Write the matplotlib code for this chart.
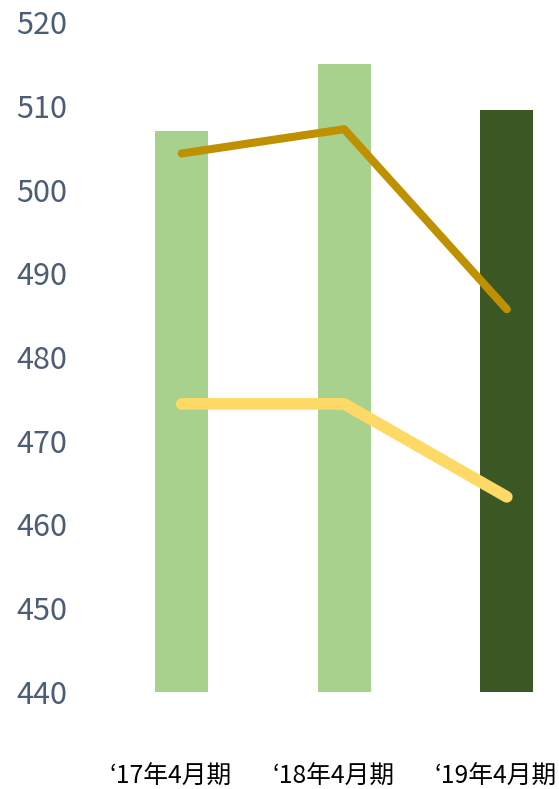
import matplotlib
matplotlib.use("Agg")
import matplotlib.pyplot as plt
import matplotlib.transforms as mtransforms

plt.rcParams['font.family'] = ['Noto Sans CJK JP', 'DejaVu Sans']

# data
periods = ["‘17年4月期", "‘18年4月期", "‘19年4月期"]
bar_values = [507.0, 515.0, 509.5]
bar_colors = ["#a9d18e", "#a9d18e", "#3a5724"]
gold_line = [504.3, 507.2, 485.7]
yellow_line = [474.4, 474.4, 463.3]
y_ticks = [440, 450, 460, 470, 480, 490, 500, 510, 520]

W, H = 559, 789
fig = plt.figure(figsize=(W / 100, H / 100), dpi=100)
# axes box in pixels: left 100, right 559, top 22, bottom 692
ax = fig.add_axes([100 / W, 1 - 692 / H, (W - 100) / W, (692 - 22) / H])

x = list(range(len(periods)))
ax.bar(x, [v - 440 for v in bar_values], bottom=440, width=0.326,
       color=bar_colors, zorder=1)
ax.plot(x, gold_line, color="#bf9000", lw=5.8, solid_capstyle="round",
        solid_joinstyle="round", zorder=3)
ax.plot(x, yellow_line, color="#ffd966", lw=8.4, solid_capstyle="round",
        solid_joinstyle="round", zorder=2)

ax.set_xlim(-0.502, 2.321)
ax.set_ylim(440, 520)
ax.set_yticks(y_ticks)
ax.set_yticklabels([str(t) for t in y_ticks], fontsize=22, color="#4d5d75")
ax.set_xticks(x)
ax.set_xticklabels(periods, fontsize=17.8, color="#000000")
ax.tick_params(axis="y", length=0, pad=23.5)
ax.tick_params(axis="x", length=0, pad=52)
for lab in ax.get_xticklabels():
    lab.set_transform(lab.get_transform() +
                      mtransforms.ScaledTranslation(-11 / 100, 0, fig.dpi_scale_trans))

for s in ax.spines.values():
    s.set_visible(False)

fig.savefig("out.png", dpi=100)
